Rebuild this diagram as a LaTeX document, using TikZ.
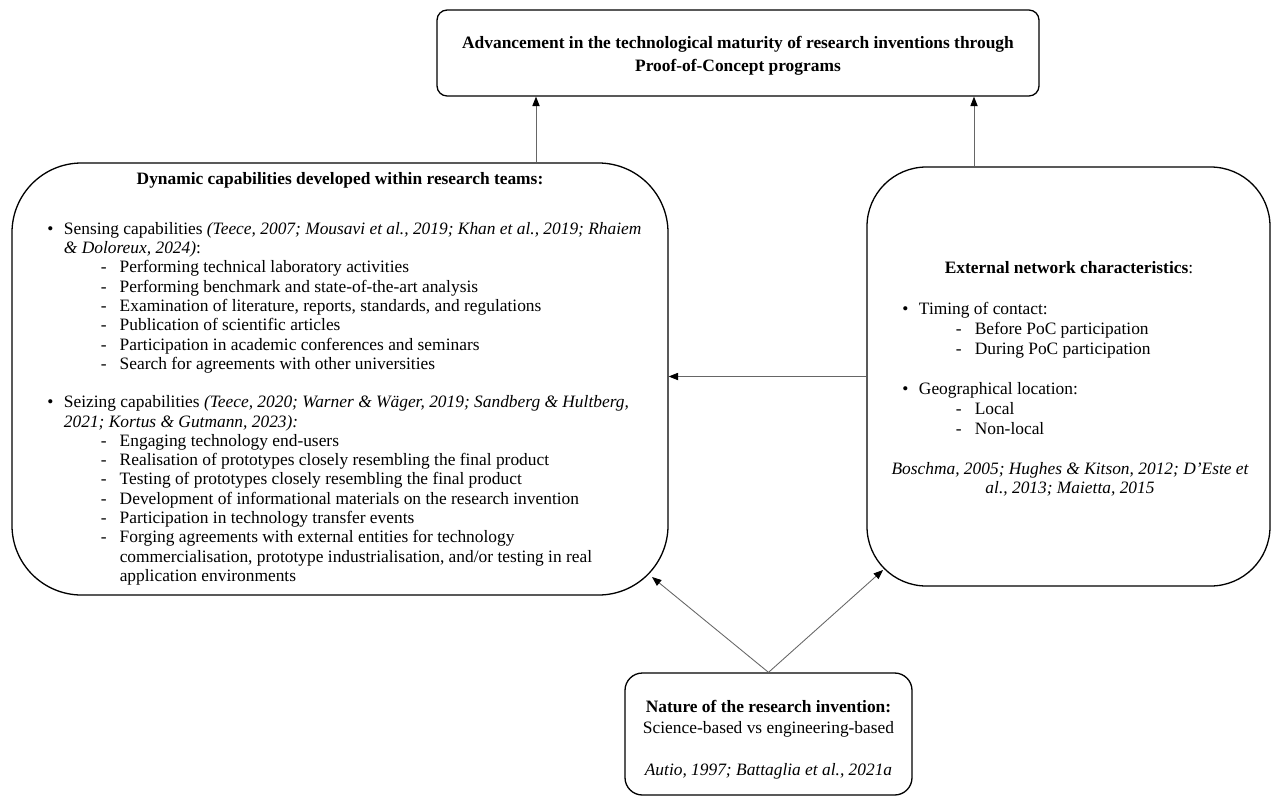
\documentclass[tikz,border=0pt]{standalone}
\usepackage{fontspec}
\setmainfont{Liberation Serif}
\usetikzlibrary{arrows.meta, calc, positioning}

% list lines
\newcommand{\bitem}[1]{\makebox[11.5pt][l]{\textbullet}#1}
\newcommand{\ditem}[1]{\hspace*{37pt}\makebox[13pt][l]{-}#1}

\begin{document}
\begin{tikzpicture}[x=0.69pt, y=0.69pt,
  box/.style={draw, line width=0.9pt, inner sep=0pt},
  txt/.style={inner sep=0pt, font=\fontsize{12}{13.3}\selectfont},
  arr/.style={draw=black!60, line width=0.6pt, -{Triangle[length=6.5pt, width=5pt, color=black]}}]
\def\u{0.69pt}
\useasboundingbox (0,0) rectangle (1272,-801);

% Draw boxes
\node[box, rounded corners=7pt, minimum width=602*\u, minimum height=86*\u] (top) at (738,-53) {};
\node[box, rounded corners=48pt, minimum width=656*\u, minimum height=432*\u] (dyn) at (340,-379) {};
\node[box, rounded corners=41pt, minimum width=403*\u, minimum height=419*\u] (ext) at (1068.5,-376.5) {};
\node[box, rounded corners=12pt, minimum width=287*\u, minimum height=122*\u] (nat) at (768.5,-734) {};

% Outcome
\node[txt, align=center, font=\fontsize{12}{16}\selectfont\bfseries] (toptext) at (738,-56)
  {Advancement in the technological maturity of research inventions through\\Proof-of-Concept programs};

% Dynamic capabilities
\node[txt, anchor=base] (dyntitle) at (340,-184) {\textbf{Dynamic capabilities developed within research teams:}};
\node[txt, anchor=north west, align=left] (dynlist) at (47,-222) {%
\bitem{Sensing capabilities \textit{(Teece, 2007; Mousavi et al., 2019; Khan et al., 2019; Rhaiem}}\\
\hspace*{11.5pt}\textit{\& Doloreux, 2024)}:\\
\ditem{Performing technical laboratory activities}\\
\ditem{Performing benchmark and state-of-the-art analysis}\\
\ditem{Examination of literature, reports, standards, and regulations}\\
\ditem{Publication of scientific articles}\\
\ditem{Participation in academic conferences and seminars}\\
\ditem{Search for agreements with other universities}\\[13.3pt]
\bitem{Seizing capabilities \textit{(Teece, 2020; Warner \& Wäger, 2019; Sandberg \& Hultberg,}}\\
\hspace*{11.5pt}\textit{2021; Kortus \& Gutmann, 2023):}\\
\ditem{Engaging technology end-users}\\
\ditem{Realisation of prototypes closely resembling the final product}\\
\ditem{Testing of prototypes closely resembling the final product}\\
\ditem{Development of informational materials on the research invention}\\
\ditem{Participation in technology transfer events}\\
\ditem{Forging agreements with external entities for technology}\\
\hspace*{50pt}commercialisation, prototype industrialisation, and/or testing in real\\
\hspace*{50pt}application environments};

% External network
\node[txt, anchor=base] (exttitle) at (1069,-273) {\textbf{External network characteristics}:};
\node[txt, anchor=north west, align=left, font=\fontsize{12}{13.8}\selectfont] (extlist) at (902,-302) {%
\bitem{Timing of contact:}\\
\ditem{Before PoC participation}\\
\ditem{During PoC participation}\\[13.8pt]
\bitem{Geographical location:}\\
\ditem{Local}\\
\ditem{Non-local}};
\node[txt, anchor=north, align=center, font=\fontsize{12}{13.3}\selectfont\itshape] (extref) at (1070,-462)
  {Boschma, 2005; Hughes \& Kitson, 2012; D’Este et\\al., 2013; Maietta, 2015};

% Nature of the invention
\node[txt, align=center, font=\fontsize{12}{14.5}\selectfont] (nattext) at (768.5,-740)
  {\textbf{Nature of the research invention:}\\Science-based vs engineering-based\\[14.5pt]\textit{Autio, 1997; Battaglia et al., 2021a}};

% Draw arrows
\coordinate (dynup) at ($(dyn.north)+(196,0)$);
\coordinate (extup) at ($(ext.north)+(-94.5,0)$);
\coordinate (dyncorner) at (652,-577);
\coordinate (extcorner) at (883,-570);
\draw[arr] (dynup) -- (dynup |- top.south);
\draw[arr] (extup) -- (extup |- top.south);
\draw[arr] (ext.west) -- (ext.west -| dyn.east);
\draw[arr] (nat.north) -- (dyncorner);
\draw[arr] (nat.north) -- (extcorner);

\end{tikzpicture}
\end{document}
